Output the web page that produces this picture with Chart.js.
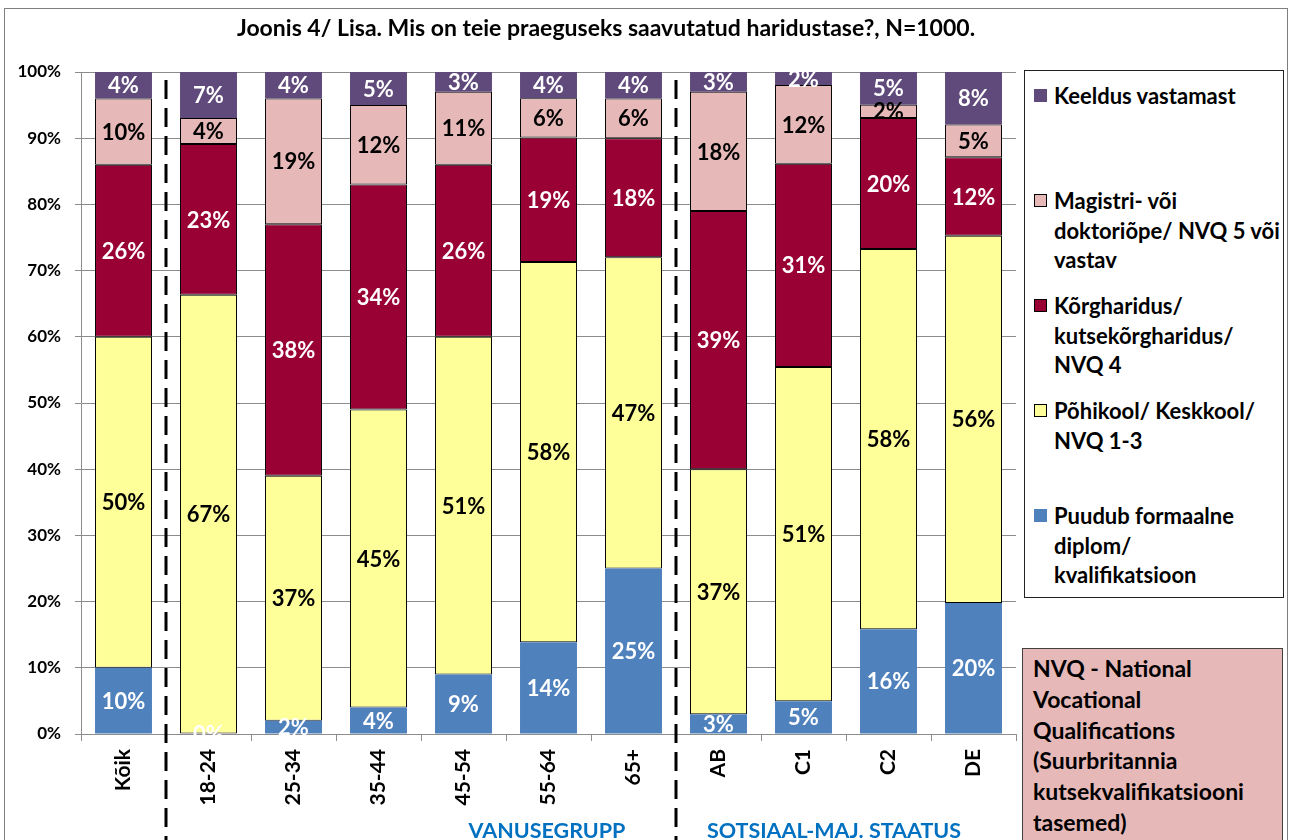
<!DOCTYPE html>
<html>
<head>
<meta charset="utf-8">
<script src="https://cdn.jsdelivr.net/npm/chart.js@4.4.1/dist/chart.umd.min.js"></script>
<style>
  body { margin: 0; background: #fff; font-family: Lato, sans-serif; }
  #wrap { position: relative; width: 1293px; height: 840px; overflow: hidden; }
  #frame { position: absolute; left: 4px; top: 8px; width: 1284px; height: 860px; border: 1px solid #7f7f7f; box-sizing: border-box; }
  #legend { position: absolute; left: 1024px; top: 70px; width: 260px; height: 528px; border: 1px solid #222; box-sizing: border-box; background: #fff; }
  .item { position: absolute; left: 0; width: 256px; font-weight: bold; font-size: 22px; line-height: 29.5px; color: #000; white-space: nowrap; }
  .item .box { position: absolute; left: 9px; top: 8px; width: 13px; height: 13px; box-sizing: border-box; }
  .item .txt { margin-left: 29px; }
  #note { position: absolute; left: 1022px; top: 648px; width: 261px; height: 220px; border: 1px solid #404040; box-sizing: border-box; background: #e6b9b8; padding: 4px 0 0 10px; font-weight: bold; font-size: 23px; line-height: 30.8px; color: #000; white-space: nowrap; }
</style>
</head>
<body>
<div id="wrap">
  <canvas id="chart" width="1293" height="840"></canvas>
  <div id="frame"></div>
  <div id="legend"></div>
  <div id="note">NVQ - National<br>Vocational<br>Qualifications<br>(Suurbritannia<br>kutsekvalifikatsiooni<br>tasemed)</div>
</div>
<script>
var categories = ["Kõik", "18-24", "25-34", "35-44", "45-54", "55-64", "65+", "AB", "C1", "C2", "DE"];
var puudub = [10, 0, 2, 4, 9, 14, 25, 3, 5, 16, 20];
var pohikool = [50, 67, 37, 45, 51, 58, 47, 37, 51, 58, 56];
var korgharidus = [26, 23, 38, 34, 26, 19, 18, 39, 31, 20, 12];
var magistri = [10, 4, 19, 12, 11, 6, 6, 18, 12, 2, 5];
var keeldus = [4, 7, 4, 5, 3, 4, 4, 3, 2, 5, 8];
var yTicks = [0, 10, 20, 30, 40, 50, 60, 70, 80, 90, 100];

var seriesNames = [
  "Puudub formaalne diplom/ kvalifikatsioon",
  "Põhikool/ Keskkool/ NVQ 1-3",
  "Kõrgharidus/ kutsekõrgharidus/ NVQ 4",
  "Magistri- või doktoriõpe/ NVQ 5 või vastav",
  "Keeldus vastamast"
];
var legendLines = [
  ["Puudub formaalne", "diplom/", "kvalifikatsioon"],
  ["Põhikool/ Keskkool/", "NVQ 1-3"],
  ["Kõrgharidus/", "kutsekõrgharidus/", "NVQ 4"],
  ["Magistri- või", "doktoriõpe/ NVQ 5 või", "vastav"],
  ["Keeldus vastamast"]
];
var seriesValues = [puudub, pohikool, korgharidus, magistri, keeldus];
var barColors = ["#4f81bd", "#ffff99", "#990033", "#e6b9b8", "#604a7b"];
var borderWidths = [0, 1, 1, 1, 0];
var labelColors = ["#fff", "#000", "#fff", "#000", "#fff"];

var title = "Joonis 4/ Lisa. Mis on teie praeguseks saavutatud haridustase?, N=1000.";
var groupLabels = [
  { text: "VANUSEGRUPP", x: 547 },
  { text: "SOTSIAAL-MAJ. STAATUS", x: 834 }
];
var dividers = [0.5, 6.5];

// 100% stacked: each column scaled to its own total
var totals = categories.map(function (c, i) {
  return seriesValues.reduce(function (s, arr) { return s + arr[i]; }, 0);
});

var datasets = seriesValues.map(function (arr, k) {
  return {
    label: seriesNames[k],
    raw: arr,
    data: arr.map(function (v, i) { return v / totals[i] * 100; }),
    backgroundColor: barColors[k],
    borderColor: "#000",
    borderWidth: borderWidths[k],
    borderSkipped: false,
    barPercentage: 0.67,
    categoryPercentage: 1
  };
});

var extras = {
  id: "extras",
  afterDatasetsDraw: function (chart) {
    var ctx = chart.ctx;
    var area = chart.chartArea;
    var x = chart.scales.x;
    ctx.save();
    // value labels
    ctx.font = "bold 22px Lato";
    ctx.textAlign = "center";
    ctx.textBaseline = "middle";
    chart.data.datasets.forEach(function (ds, k) {
      chart.getDatasetMeta(k).data.forEach(function (bar, i) {
        ctx.fillStyle = labelColors[k];
        ctx.fillText(ds.raw[i] + "%", bar.x, (bar.y + bar.base) / 2 + 1);
      });
    });
    // dashed separators
    ctx.strokeStyle = "#000";
    ctx.lineWidth = 3;
    ctx.setLineDash([19, 9]);
    dividers.forEach(function (d) {
      var px = Math.round(x.getPixelForValue(d));
      ctx.beginPath();
      ctx.moveTo(px, area.top + 8);
      ctx.lineTo(px, chart.height);
      ctx.stroke();
    });
    ctx.setLineDash([]);
    // title and group names
    ctx.fillStyle = "#000";
    ctx.font = "bold 23px Lato";
    ctx.fillText(title, 606, 29);
    ctx.fillStyle = "#0070c0";
    ctx.font = "bold 21.5px Lato";
    groupLabels.forEach(function (g) {
      ctx.fillText(g.text, g.x, 831);
    });
    ctx.restore();
  }
};

new Chart(document.getElementById("chart"), {
  type: "bar",
  data: { labels: categories, datasets: datasets },
  options: {
    responsive: false,
    animation: false,
    layout: { padding: { top: 72, right: 277, bottom: 0, left: 0 } },
    plugins: { legend: { display: false }, tooltip: { enabled: false } },
    scales: {
      x: {
        stacked: true,
        afterFit: function (s) { s.height = 106; },
        grid: { drawOnChartArea: false, color: "#8c8c8c", tickLength: 7, offset: true },
        border: { color: "#8c8c8c" },
        ticks: {
          color: "#000",
          font: { family: "Lato", weight: "bold", size: 21 },
          minRotation: 90, maxRotation: 90, padding: 8, autoSkip: false
        }
      },
      y: {
        stacked: true,
        min: 0, max: 100,
        afterFit: function (s) { s.width = 81; },
        afterBuildTicks: function (s) { s.ticks = yTicks.map(function (v) { return { value: v }; }); },
        grid: { color: "#8c8c8c", tickLength: 6 },
        border: { color: "#8c8c8c" },
        ticks: {
          color: "#000",
          padding: 14,
          font: { family: "Lato", weight: "bold", size: 17 },
          callback: function (v) { return v + "%"; }
        }
      }
    }
  },
  plugins: [extras]
});

// legend, top entry first as in the reference
var legend = document.getElementById("legend");
for (var k = seriesNames.length - 1; k >= 0; k--) {
  var pos = seriesNames.length - 1 - k;
  var div = document.createElement("div");
  div.className = "item";
  div.style.top = (10 + pos * 105) + "px";
  var box = document.createElement("div");
  box.className = "box";
  box.style.background = barColors[k];
  if (borderWidths[k]) box.style.border = "1px solid #000";
  var txt = document.createElement("div");
  txt.className = "txt";
  txt.innerHTML = legendLines[k].join("<br>");
  div.appendChild(box);
  div.appendChild(txt);
  legend.appendChild(div);
}
</script>
</body>
</html>
